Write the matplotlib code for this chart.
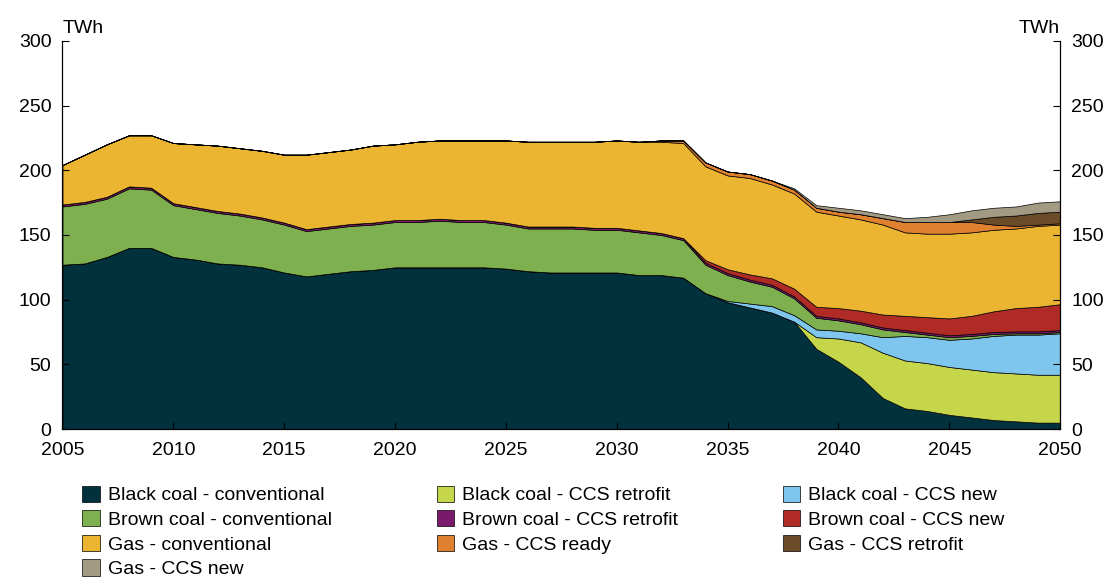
import matplotlib.pyplot as plt
import numpy as np

plt.rcParams['font.family'] = ['Liberation Sans', 'DejaVu Sans']

years = np.arange(2005, 2051)

# layer thicknesses (TWh)
black_conv = [127, 128, 133, 140, 140, 133, 131, 128, 127, 125, 121, 118, 120, 122, 123, 125,
              125, 125, 125, 125, 124, 122, 121, 121, 121, 121, 119, 119, 117, 105, 98, 94,
              90, 83, 62, 52, 40, 24, 16, 14, 11, 9, 7, 6, 5, 5]
black_retro = [0]*33 + [0, 9, 18, 27, 35, 37, 37, 37, 37, 37, 37, 37, 37]
black_new = [0]*30 + [1, 3, 5, 5, 6, 6, 7, 12, 19, 20, 21, 24, 28, 30, 31, 32]
brown_conv = [45, 46, 45, 46, 45, 40, 39, 39, 38, 37, 37, 35, 35, 35, 35, 35,
              35, 36, 35, 35, 34, 33, 34, 34, 33, 33, 33, 31, 29, 22, 20, 17,
              15, 13, 9, 8, 7, 6, 3, 2, 2, 2, 1.5, 1, 1, 1]
brown_retro = [1.5]*46
brown_new = [0]*29 + [2, 3, 4, 5, 6, 7, 8, 9, 10, 11, 12, 13, 14, 16, 18, 19, 20]
gas_top = [204, 212, 220, 227, 227, 221, 220, 219, 217, 215, 212, 212, 214, 216, 219, 220,
           222, 223, 223, 223, 223, 222, 222, 222, 222, 223, 222, 222, 221, 203, 196, 194,
           189, 182, 168, 165, 162, 158, 152, 151, 151, 152, 154, 155, 157, 158]
gas_ready = [0]*27 + [1, 2, 3, 3, 3, 3, 3, 3, 3, 4, 5, 8, 9, 9, 8, 4, 2, 1, 1]
gas_retro = [0]*41 + [2, 6, 8, 9, 9]
gas_new = [0]*33 + [1, 2, 3, 3, 3, 3, 4, 6, 7, 7, 7, 8, 8]

below_gas = (np.array(black_conv) + np.array(black_retro) + np.array(black_new)
             + np.array(brown_conv) + np.array(brown_retro) + np.array(brown_new))
gas_conv = np.array(gas_top) - below_gas

labels = ['Black coal - conventional', 'Black coal - CCS retrofit', 'Black coal - CCS new',
          'Brown coal - conventional', 'Brown coal - CCS retrofit', 'Brown coal - CCS new',
          'Gas - conventional', 'Gas - CCS ready', 'Gas - CCS retrofit', 'Gas - CCS new']
colors = ['#00313d', '#c5d64b', '#7fc6ef', '#7fb04f', '#7b1a6b', '#b02a26',
          '#ebb431', '#e0812f', '#6b4c28', '#a39a83']
series = [black_conv, black_retro, black_new, brown_conv, brown_retro, brown_new,
          gas_conv, gas_ready, gas_retro, gas_new]

fig = plt.figure(figsize=(11.16, 5.83), dpi=100)
ax = fig.add_axes([0.056, 0.264, 0.894, 0.666])
polys = ax.stackplot(years, *series, colors=colors, labels=labels, linewidth=0)
polys[4].set_edgecolor('black')
polys[4].set_linewidth(1.0)

ax.set_xlim(2005, 2050)
ax.set_ylim(0, 300)
ax.set_xticks(range(2005, 2051, 5))
ax.set_yticks(range(0, 301, 50))
ax.tick_params(direction='in', labelsize=14, length=5)
ax.tick_params(axis='x', pad=9)
ax.tick_params(axis='y', pad=8)
ax.spines['top'].set_visible(False)
ax2 = ax.twinx()
ax2.set_ylim(0, 300)
ax2.set_yticks(range(0, 301, 50))
ax2.tick_params(direction='in', labelsize=14, length=5, pad=8)
ax2.spines['top'].set_visible(False)
ax.text(0, 1.01, 'TWh', transform=ax.transAxes, fontsize=14, ha='left', va='bottom')
ax.text(1, 1.01, 'TWh', transform=ax.transAxes, fontsize=14, ha='right', va='bottom')

handles, labs = ax.get_legend_handles_labels()
for h in handles:
    h.set_edgecolor('black')
    h.set_linewidth(0.5)
# reorder so legend fills row by row in 3 columns
order = [0, 3, 6, 9, 1, 4, 7, 2, 5, 8]
fig.legend([handles[i] for i in order], [labs[i] for i in order],
           loc='upper left', bbox_to_anchor=(0.058, 0.197), ncol=3,
           frameon=False, fontsize=14, handlelength=0.9, handleheight=0.9,
           columnspacing=5.4, labelspacing=0.3, handletextpad=0.4)

fig.savefig('out.png', dpi=100)
